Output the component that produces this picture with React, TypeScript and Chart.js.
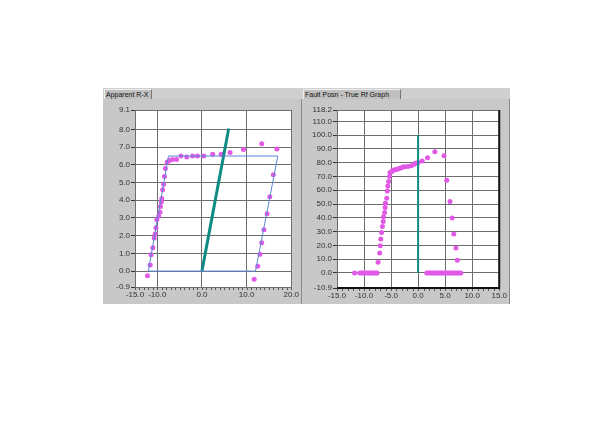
import React, { useEffect, useRef } from "react";
import { Chart, registerables } from "chart.js";
Chart.register(...registerables);

// ---- Apparent R-X ----
const rxPolyR = [-12.0, -7.5, 17.0, 12.0, -12.0];
const rxPolyX = [0, 6.5, 6.5, 0, 0];
const rxLineR = [0, 6.0];
const rxLineX = [0, 8.05];
const rxPtsR = [-12.2, -11.6, -11.4, -11.0, -10.7, -10.5, -10.3, -10.1, -9.7, -9.4, -9.3, -9.1, -9.0, -8.8, -8.6, -8.4, -8.2, -7.8, -7.3, -6.6, -5.7, -4.7, -3.4, -2.1, -1.0, 0.4, 2.4, 4.3, 4.6, 6.3, 9.3, 13.4, 16.8, 16.0, 15.2, 14.6, 13.9, 13.4, 13.0, 12.5, 11.7];
const rxPtsX = [-0.27, 0.35, 0.92, 1.32, 1.87, 2.1, 2.45, 2.9, 3.1, 3.33, 3.65, 3.9, 4.1, 4.6, 4.9, 5.35, 5.8, 6.15, 6.25, 6.3, 6.3, 6.5, 6.45, 6.5, 6.5, 6.5, 6.6, 6.6, 6.6, 6.7, 6.87, 7.2, 6.9, 5.44, 4.2, 3.24, 2.33, 1.6, 0.95, 0.27, -0.46];
const rxXTicks = [-15, -10, 0, 10, 20];
const rxYTicks = [-0.9, 0, 1, 2, 3, 4, 5, 6, 7, 8, 9.1];

// ---- Fault Posn - True Rf ----
const rfLineD = [0, 0];
const rfLineR = [0, 100];
const rfPtsD = [
  -11.75, -10.8, -10.5, -10.2, -9.9, -9.6, -9.3, -9.0, -8.7, -8.4, -8.1, -7.8, -7.6,
  -7.4, -7.1, -7.0, -6.9, -6.75, -6.6, -6.45, -6.4, -6.2, -6.1, -6.05, -5.8, -5.7, -5.6, -5.45, -5.3, -5.2,
  -4.9, -4.7, -4.4, -4.1, -3.75, -3.4, -3.1, -2.8, -2.5, -1.9, -1.25, -0.75, -0.5, 0.0, 0.75, 1.75, 3.1,
  4.8, 5.3, 5.9, 6.3, 6.6, 7.0, 7.25,
  1.6, 1.9, 2.2, 2.5, 2.8, 3.1, 3.4, 3.7, 4.0, 4.3, 4.6, 4.9, 5.2, 5.5, 5.8, 6.1, 6.4, 6.7, 7.0, 7.3, 7.6, 7.9,
];
const rfPtsR = [
  0, 0, 0, 0, 0, 0, 0, 0, 0, 0, 0, 0, 0,
  7.7, 14.5, 19.8, 24.6, 29.4, 33.7, 37.3, 40.7, 43.9, 47.5, 50.6, 54.2, 59.5, 63.1, 66.3, 69.9, 72.8,
  73.5, 74.5, 74.7, 75.0, 75.4, 76.0, 76.4, 76.8, 77.0, 77.3, 77.8, 78.8, 79.5, 80.2, 81.2, 83.6, 88.0,
  85.1, 67.2, 51.8, 39.8, 28.2, 18.1, 9.2,
  0, 0, 0, 0, 0, 0, 0, 0, 0, 0, 0, 0, 0, 0, 0, 0, 0, 0, 0, 0, 0, 0,
];
const rfXTicks = [-15, -10, -5, 0, 5, 10, 15];
const rfYTicks = [-10.9, 0, 10, 20, 30, 40, 50, 60, 70, 80, 90, 100, 110, 118.2];

const toXY = (xs: number[], ys: number[]) => xs.map((x, i) => ({ x, y: ys[i] }));

const FONT = { family: "'Liberation Sans', Arial, sans-serif", size: 8 };
const TICK_COLOR = "#333333";
const GRID_COLOR = "#6e6e6e";
const MAGENTA = "#e05ae6";
const TEAL = "#0f8a84";
const BLUE = "#5a88d6";

const framePlugin = {
  id: "framePlugin",
  beforeDraw(chart: any) {
    const { ctx, chartArea: a } = chart;
    ctx.save();
    ctx.fillStyle = "#ffffff";
    ctx.fillRect(a.left, a.top, a.right - a.left, a.bottom - a.top);
    ctx.restore();
  },
  afterDraw(chart: any) {
    const { ctx, chartArea: a } = chart;
    const opts = chart.options.plugins.framePlugin || {};
    const xs = chart.scales.x;
    ctx.save();
    ctx.strokeStyle = "#555";
    ctx.lineWidth = 1;
    for (let v = Math.ceil(xs.min); v <= xs.max; v += 1) {
      const px = Math.round(xs.getPixelForValue(v)) + 0.5;
      ctx.beginPath();
      ctx.moveTo(px, a.bottom + 1);
      ctx.lineTo(px, a.bottom + 3);
      ctx.stroke();
    }
    if (opts.dark) {
      ctx.strokeStyle = "#111";
      ctx.lineWidth = 2;
      ctx.beginPath();
      ctx.moveTo(a.left, a.bottom);
      ctx.lineTo(a.right, a.bottom);
      ctx.lineTo(a.right, a.top);
      ctx.stroke();
    }
    ctx.restore();
  },
};

function makeChart(
  canvas: HTMLCanvasElement,
  datasets: any[],
  xTicks: number[],
  yTicks: number[],
  pad: { left: number; right: number; top: number; bottom: number },
  dark: boolean
) {
  return new Chart(canvas, {
    type: "scatter",
    data: { datasets },
    options: {
      animation: false,
      responsive: false,
      maintainAspectRatio: false,
      layout: { padding: { left: 0, right: pad.right, top: pad.top, bottom: 0 } },
      plugins: { legend: { display: false }, tooltip: { enabled: false }, framePlugin: { dark } } as any,
      scales: {
        x: {
          type: "linear",
          min: xTicks[0],
          max: xTicks[xTicks.length - 1],
          afterBuildTicks: (s: any) => {
            s.ticks = xTicks.map((v) => ({ value: v }));
          },
          afterFit: (s: any) => {
            s.height = pad.bottom;
          },
          ticks: {
            callback: (v: any) => Number(v).toFixed(1),
            font: FONT,
            color: TICK_COLOR,
            padding: 3,
            maxRotation: 0,
            autoSkip: false,
          },
          grid: { color: GRID_COLOR, lineWidth: 1, tickLength: 0 },
          border: { display: true, color: GRID_COLOR },
        },
        y: {
          type: "linear",
          min: yTicks[0],
          max: yTicks[yTicks.length - 1],
          afterBuildTicks: (s: any) => {
            s.ticks = yTicks.map((v) => ({ value: v }));
          },
          afterFit: (s: any) => {
            s.width = pad.left;
          },
          ticks: {
            callback: (v: any) => Number(v).toFixed(1),
            font: FONT,
            color: TICK_COLOR,
            padding: 1,
            autoSkip: false,
          },
          grid: { color: GRID_COLOR, lineWidth: 1, tickLength: 4, tickColor: "#333" },
          border: { display: true, color: GRID_COLOR },
        },
      },
    } as any,
    plugins: [framePlugin as any],
  });
}

function Panel(props: {
  left: number;
  width: number;
  title: string;
  tabWidth: number;
  build: (c: HTMLCanvasElement) => Chart;
}) {
  const ref = useRef<HTMLCanvasElement>(null);
  useEffect(() => {
    const ch = props.build(ref.current!);
    return () => ch.destroy();
  }, []);
  return (
    <div
      style={{
        position: "absolute",
        left: props.left,
        top: 88,
        width: props.width,
        height: 216,
        background: "#c8c8c8",
        borderRight: "1px solid #8a8a8a",
        boxSizing: "border-box",
      }}
    >
      <div
        style={{
          position: "absolute",
          left: 0,
          top: 0,
          width: props.width,
          height: 11,
          background: "#cfcfcf",
        }}
      />
      <div
        style={{
          position: "absolute",
          left: 1,
          top: 1,
          width: props.tabWidth,
          height: 10,
          background: "#c0c0c0",
          borderTop: "1px solid #eee",
          borderLeft: "1px solid #eee",
          borderRight: "1px solid #777",
          boxSizing: "border-box",
          font: "7px 'Liberation Sans', Arial, sans-serif",
          lineHeight: "9px",
          color: "#111",
          paddingLeft: 1,
          whiteSpace: "nowrap",
          overflow: "hidden",
        }}
      >
        {props.title}
      </div>
      <canvas
        ref={ref}
        width={props.width}
        height={205}
        style={{ position: "absolute", left: 0, top: 11, width: props.width, height: 205 }}
      />
    </div>
  );
}

export default function App() {
  const buildRX = (c: HTMLCanvasElement) =>
    makeChart(
      c,
      [
        {
          data: toXY(rxPolyR, rxPolyX),
          showLine: true,
          borderColor: BLUE,
          borderWidth: 1,
          pointRadius: 0,
          fill: false,
        },
        {
          data: toXY(rxLineR, rxLineX),
          showLine: true,
          borderColor: TEAL,
          borderWidth: 3,
          pointRadius: 0,
        },
        {
          data: toXY(rxPtsR, rxPtsX),
          showLine: false,
          pointRadius: 2.5,
          backgroundColor: MAGENTA,
          borderWidth: 0,
        },
      ],
      rxXTicks,
      rxYTicks,
      { left: 32, right: 5, top: 11, bottom: 17 },
      false
    );
  const buildRF = (c: HTMLCanvasElement) =>
    makeChart(
      c,
      [
        {
          data: toXY(rfLineD, rfLineR),
          showLine: true,
          borderColor: TEAL,
          borderWidth: 2,
          pointRadius: 0,
        },
        {
          data: toXY(rfPtsD, rfPtsR),
          showLine: false,
          pointRadius: 2.5,
          backgroundColor: MAGENTA,
          borderWidth: 0,
        },
      ],
      rfXTicks,
      rfYTicks,
      { left: 35, right: 10, top: 11, bottom: 16 },
      true
    );
  return (
    <div style={{ position: "absolute", left: 0, top: 0, width: 600, height: 444, background: "#fff" }}>
      <Panel left={103} width={199} title="Apparent R-X" tabWidth={48} build={buildRX} />
      <Panel left={302} width={208} title="Fault Posn - True Rf Graph" tabWidth={98} build={buildRF} />
    </div>
  );
}
